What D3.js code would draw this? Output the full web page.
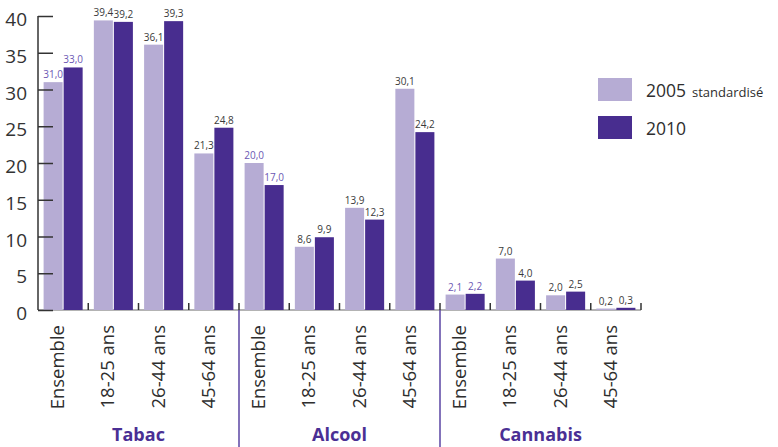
<!DOCTYPE html>
<html>
<head>
<meta charset="utf-8">
<script src="https://cdn.jsdelivr.net/npm/d3@7/dist/d3.min.js"></script>
<style>
  html, body { margin: 0; padding: 0; background: #fff; }
  svg { display: block; font-family: "Open Sans", "DejaVu Sans", sans-serif; }
</style>
</head>
<body>
<svg id="chart" width="778" height="447"></svg>
<script>
// Groups and their age categories
const groups = ["Tabac", "Alcool", "Cannabis"];
const ageLabels = ["Ensemble", "18-25 ans", "26-44 ans", "45-64 ans"];
const seriesNames = ["2005", "2010"];

// Percentages per category (Tabac ×4, Alcool ×4, Cannabis ×4)
const values2005 = [31.0, 39.4, 36.1, 21.3, 20.0, 8.6, 13.9, 30.1, 2.1, 7.0, 2.0, 0.2];
const values2010 = [33.0, 39.2, 39.3, 24.8, 17.0, 9.9, 12.3, 24.2, 2.2, 4.0, 2.5, 0.3];

const yTicks = [0, 5, 10, 15, 20, 25, 30, 35, 40];

const colors = { "2005": "#b6acd4", "2010": "#482d8f" };
const accent = "#4a2f94";
const labelPurple = "#6b57b3";

// Build flat category list
const cats = [];
groups.forEach((g, gi) => ageLabels.forEach((a, ai) => cats.push({ id: g + "|" + a, group: g, age: a, gi, ai })));
cats.forEach((c, i) => { c.v = { "2005": values2005[i], "2010": values2010[i] }; });

const svg = d3.select("#chart");
const plotLeft = 38, plotRight = 641, plotTop = 16, plotBottom = 310;

const x = d3.scaleBand().domain(cats.map(c => c.id)).range([plotLeft, plotRight]).padding(0);
const xs = d3.scaleBand().domain(seriesNames).range([0, x.bandwidth()])
  .paddingInner(0.05).paddingOuter(0.28);
const y = d3.scaleLinear().domain([0, 40]).range([plotBottom, plotTop]);

// Baseline
svg.append("line").attr("x1", plotLeft).attr("x2", plotRight).attr("y1", plotBottom).attr("y2", plotBottom)
  .attr("stroke", "#9a9a9a").attr("stroke-width", 1.5);

// Bars
const cg = svg.append("g").selectAll("g").data(cats).join("g")
  .attr("transform", d => `translate(${x(d.id)},0)`);

cg.selectAll("rect").data(d => seriesNames.map(s => ({ s, v: d.v[s], ai: d.ai })))
  .join("rect")
  .attr("x", d => xs(d.s))
  .attr("width", xs.bandwidth())
  .attr("y", d => y(d.v))
  .attr("height", d => y(0) - y(d.v))
  .attr("fill", d => colors[d.s]);

// Value labels
cg.selectAll("text.val").data(d => seriesNames.map(s => ({ s, v: d.v[s], ai: d.ai })))
  .join("text").attr("class", "val")
  .attr("x", d => xs(d.s) + xs.bandwidth() / 2)
  .attr("y", d => y(d.v) - 4)
  .attr("text-anchor", "middle")
  .attr("font-size", 10)
  .attr("fill", d => d.ai === 0 ? labelPurple : "#3a3a3a")
  .text(d => d3.format(".1f")(d.v).replace(".", ","));

// Y axis
const yAxis = d3.axisLeft(y).tickValues(yTicks).tickSize(-15).tickPadding(11).tickFormat(d3.format("d"));
const ya = svg.append("g").attr("transform", `translate(${plotLeft},0)`).call(yAxis);
ya.select(".domain").attr("stroke", "#333").attr("stroke-width", 1.5).attr("d", `M0,${plotTop}V${plotBottom}`);
ya.selectAll(".tick line").attr("stroke", "#333").attr("stroke-width", 1.5);
ya.selectAll(".tick text").attr("font-size", 19).attr("fill", "#333")
  .attr("font-family", "\"Open Sans\", sans-serif").attr("dy", "0.5em");

// Small ticks at category boundaries
const bounds = d3.range(1, cats.length + 1).map(i => plotLeft + i * x.step());
svg.append("g").selectAll("line").data(bounds).join("line")
  .attr("x1", d => d).attr("x2", d => d)
  .attr("y1", plotBottom - 7).attr("y2", plotBottom)
  .attr("stroke", "#333").attr("stroke-width", 1.5);

// Group separators
const seps = [1, 2].map(g => plotLeft + g * 4 * x.step());
svg.append("g").selectAll("line").data(seps).join("line")
  .attr("x1", d => d).attr("x2", d => d)
  .attr("y1", plotBottom).attr("y2", 447)
  .attr("stroke", "#5a44a3").attr("stroke-width", 1.5);

// Category labels (rotated)
svg.append("g").selectAll("text").data(cats).join("text")
  .attr("transform", d => `translate(${x(d.id) + x.bandwidth() / 2 + 1},325) rotate(-90)`)
  .attr("text-anchor", "end")
  .attr("font-size", 18.5)
  .attr("fill", "#2e2e2e")
  .text(d => d.age);

// Group labels
svg.append("g").selectAll("text").data(groups).join("text")
  .attr("x", (d, i) => plotLeft + (i * 4 + 2) * x.step())
  .attr("y", 441)
  .attr("text-anchor", "middle")
  .attr("font-size", 18)
  .attr("font-weight", "bold")
  .attr("fill", accent)
  .text(d => d);

// Legend
const legend = svg.append("g").attr("transform", "translate(598,78)");
const li = legend.selectAll("g").data(seriesNames).join("g")
  .attr("transform", (d, i) => `translate(0,${i * 38})`);
li.append("rect").attr("width", 34).attr("height", 23).attr("fill", d => colors[d]);
const lt = li.append("text").attr("x", 48).attr("y", 18.5)
  .attr("font-size", 17.5).attr("fill", "#2e2e2e");
lt.append("tspan").text(d => d);
lt.filter(d => d === "2005").append("tspan").attr("dx", 6).attr("font-size", 13).text("standardisé");
</script>
</body>
</html>
